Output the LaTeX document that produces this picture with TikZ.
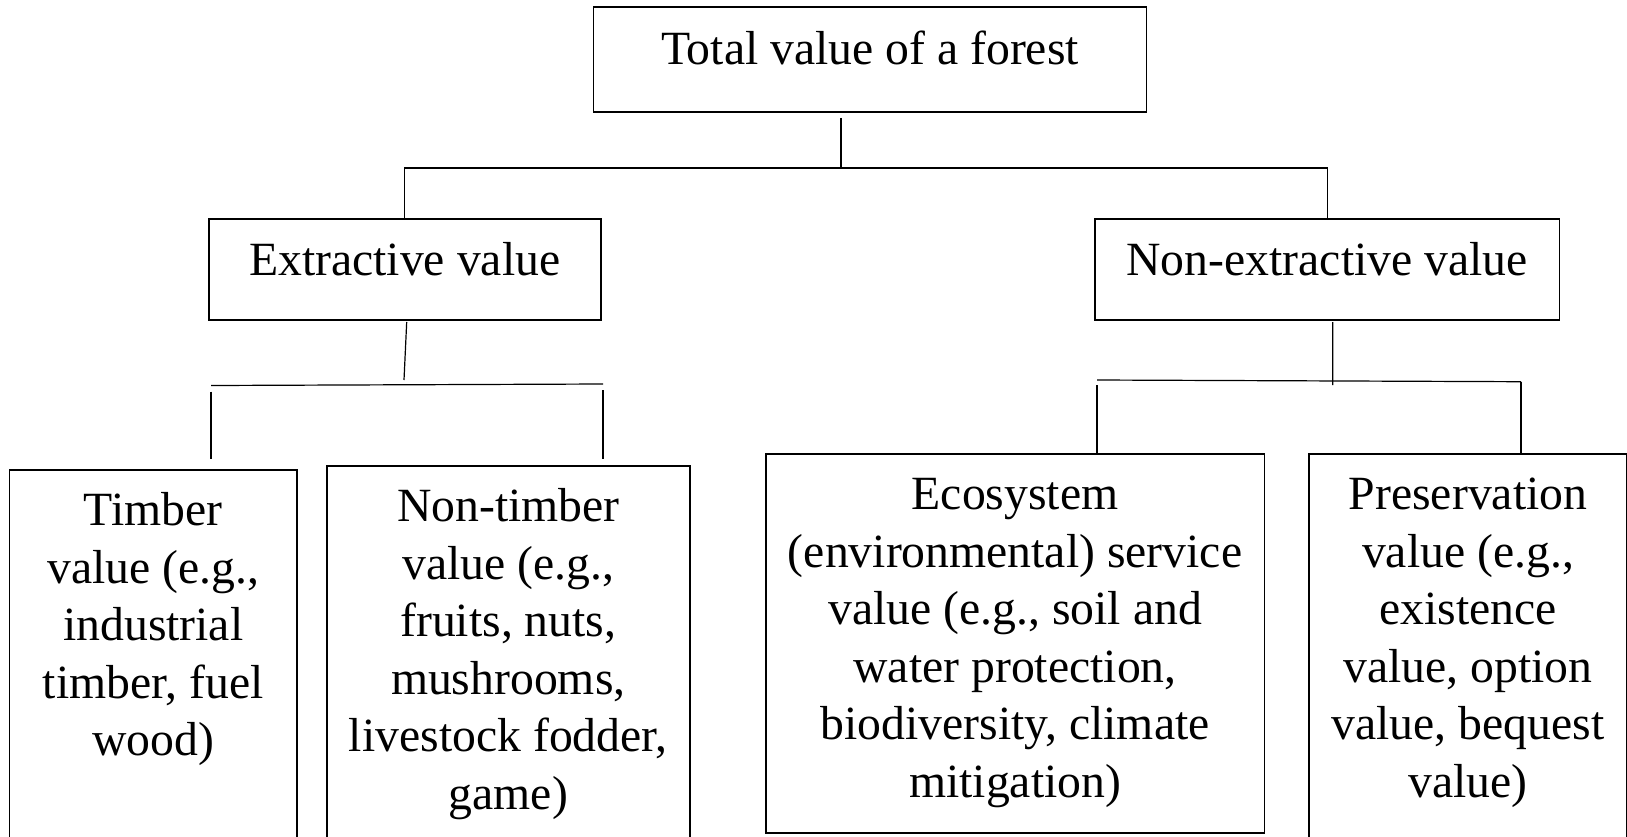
\documentclass[tikz,border=0pt]{standalone}
\usepackage{fontspec}
\setmainfont{Liberation Serif}
\usetikzlibrary{positioning,calc}

\newcommand\boxfont{\fontsize{47.7}{57.5}\selectfont}

\begin{document}
\begin{tikzpicture}[
    x=1pt, y=-1pt,
    box/.style={rectangle, draw, line width=1.8pt, inner sep=0pt},
    txt/.style={font=\boxfont, align=center, inner sep=0pt},
    link/.style={line width=1.2pt}
]
\useasboundingbox (0,0) rectangle (1627,836);
\clip (0,0) rectangle (1627,836);

% Top level
\node[box, minimum width=553pt, minimum height=104.7pt] (total) at (870,59.7) {};
\node[txt, below=24pt of total.north] (totaltxt) {Total value of a forest};

% Second level
\node[box, minimum width=392.2pt, minimum height=100.6pt] (extr) at (404.7,269.3) {};
\node[txt, below=24pt of extr.north] (extrtxt) {Extractive value};

\node[box, minimum width=464.8pt, minimum height=100.6pt] (nonextr) at (1327.1,269.3) {};
\node[txt, below=24pt of nonextr.north] (nonextrtxt) {Non-extractive value};

% Third level
\node[box, minimum width=287.5pt, minimum height=390pt] (timber) at (153.3,665) {};
\node[txt, below=23.4pt of timber.north] (timbertxt) {Timber\\value (e.g.,\\industrial\\timber, fuel\\wood)};

\node[box, minimum width=362.9pt, minimum height=394.3pt] (nontimber) at (508.3,662.9) {};
\node[txt, below=23.8pt of nontimber.north] (nontimbertxt) {Non-timber\\value (e.g.,\\fruits, nuts,\\mushrooms,\\livestock fodder,\\game)};

\node[box, minimum width=498.8pt, minimum height=379.3pt] (eco) at (1015.1,643.7) {};
\node[txt, below=25pt of eco.north] (ecotxt) {Ecosystem\\(environmental) service\\value (e.g., soil and\\water protection,\\biodiversity, climate\\mitigation)};

\node[box, minimum width=318pt, minimum height=406pt] (pres) at (1468,657) {};
\node[txt, below=25pt of pres.north] (prestxt) {Preservation\\value (e.g.,\\existence\\value, option\\value, bequest\\value)};

% Connectors, top
\coordinate (j1) at (841,168);
\draw[link] ([xshift=-29pt,yshift=-5pt]total.south) -- (j1);
\draw[link] (extr.north) |- (j1) -| (nonextr.north);

% Connectors, extractive branch
\coordinate (eL) at (211,385.5);
\coordinate (eR) at (603,384);
\draw[link] ([xshift=2pt,yshift=-1.5pt]extr.south) -- (404,380);
\draw[link] (eL) -- (eR);
\draw[link] ([yshift=-6pt]eL) -- ([yshift=10pt]eL |- timber.north);
\draw[link] ([yshift=-6pt]eR) -- ([yshift=6pt]eR |- nontimber.north);

% Connectors, non-extractive branch
\coordinate (nL) at (1097,380);
\coordinate (nR) at (1521,381.7);
\draw[link] ([xshift=5.6pt,yshift=-1.5pt]nonextr.south) -- (1332.7,385);
\draw[link] (nL) -- (nR);
\draw[link] ([yshift=-5pt]nL) -- (nL |- eco.north);
\draw[link] (nR) -- (nR |- pres.north);

\end{tikzpicture}
\end{document}
